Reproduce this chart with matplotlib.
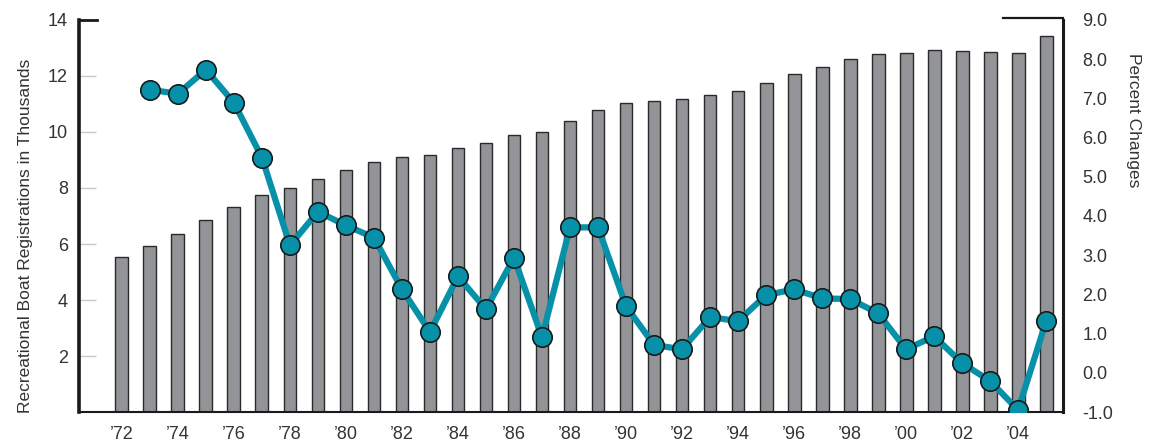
import matplotlib.pyplot as plt
from matplotlib.lines import Line2D

years = list(range(1972, 2006))
registrations = [5.53, 5.93, 6.36, 6.86, 7.32, 7.75, 8.0, 8.32, 8.64, 8.93,
                 9.1, 9.18, 9.43, 9.6, 9.89, 10.0, 10.39, 10.79, 11.04, 11.1,
                 11.18, 11.32, 11.46, 11.75, 12.07, 12.32, 12.6, 12.79, 12.82, 12.93,
                 12.89, 12.86, 12.82, 13.43]
change_years = list(range(1973, 2006))
pct_change = [7.22, 7.12, 7.73, 6.89, 5.49, 3.25, 4.11, 3.76, 3.45, 2.13,
              1.04, 2.46, 1.62, 2.94, 0.91, 3.71, 3.71, 1.70, 0.71, 0.60,
              1.42, 1.32, 1.98, 2.13, 1.90, 1.88, 1.52, 0.60, 0.93, 0.25,
              -0.21, -0.95, 1.32]
left_ticks = [2, 4, 6, 8, 10, 12, 14]
right_ticks = [-1, 0, 1, 2, 3, 4, 5, 6, 7, 8, 9]
label_years = list(range(1972, 2005, 2))

plt.rcParams['font.family'] = ['Liberation Sans', 'DejaVu Sans']

teal = "#0791A8"
bar_gray = "#939497"
text_col = "#333333"

fig = plt.figure(figsize=(11.49, 4.46), dpi=100)
ax = fig.add_axes([0.0688, 0.0762, 0.8563, 0.8790])

ax.bar(years, registrations, width=0.46, color=bar_gray, edgecolor="#2a2a2a", linewidth=1.0, zorder=2)
ax.set_xlim(1970.47, 2005.6)
ax.set_ylim(0, 14)
ax.set_yticks(left_ticks)
ax.set_yticklabels([str(t) for t in left_ticks], fontsize=13, color=text_col)
ax.tick_params(axis="y", direction="in", length=12, width=1, color="#c8c8c8", pad=8)
ax.set_xticks(label_years)
ax.set_xticklabels(["\u2019" + str(y)[2:] for y in label_years], fontsize=13, color=text_col)
ax.tick_params(axis="x", length=0, pad=10)
ax.set_ylabel("Recreational Boat Registrations in Thousands", fontsize=12.5, color=text_col)
ax.yaxis.set_label_coords(-0.047, 0.45)

ax.spines["top"].set_visible(False)
ax.spines["right"].set_visible(False)
ax.spines["left"].set_linewidth(2.6)
ax.spines["left"].set_color("#1a1a1a")
ax.spines["bottom"].set_linewidth(1.5)
ax.spines["bottom"].set_color("#1a1a1a")

ax2 = ax.twinx()
ax2.set_ylim(-1, 9)
ax2.set_yticks(right_ticks)
ax2.set_yticklabels([f"{t:.1f}" for t in right_ticks], fontsize=13, color=text_col)
ax2.tick_params(axis="y", length=0, pad=14)
ax2.set_ylabel("Percent Changes", fontsize=12.5, color=text_col, rotation=-90, va="center")
ax2.yaxis.set_label_coords(1.072, 0.745)
for s in ["top", "left", "bottom"]:
    ax2.spines[s].set_visible(False)
ax2.spines["right"].set_linewidth(2.2)
ax2.spines["right"].set_color("#1a1a1a")

ax2.plot(change_years, pct_change, color=teal, linewidth=4.5, zorder=3,
         marker="o", markersize=14, markerfacecolor=teal, markeredgecolor="#1a1a1a",
         markeredgewidth=1.2)

# short top caps of the frame
ax.add_line(Line2D([0, 0.018], [1, 1], transform=ax.transAxes, color="#1a1a1a", lw=2, clip_on=False))
ax.add_line(Line2D([0.939, 1.0], [1.005, 1.005], transform=ax.transAxes, color="#1a1a1a", lw=1.6, clip_on=False))

fig.savefig("out.png", dpi=100)
plt.close(fig)
